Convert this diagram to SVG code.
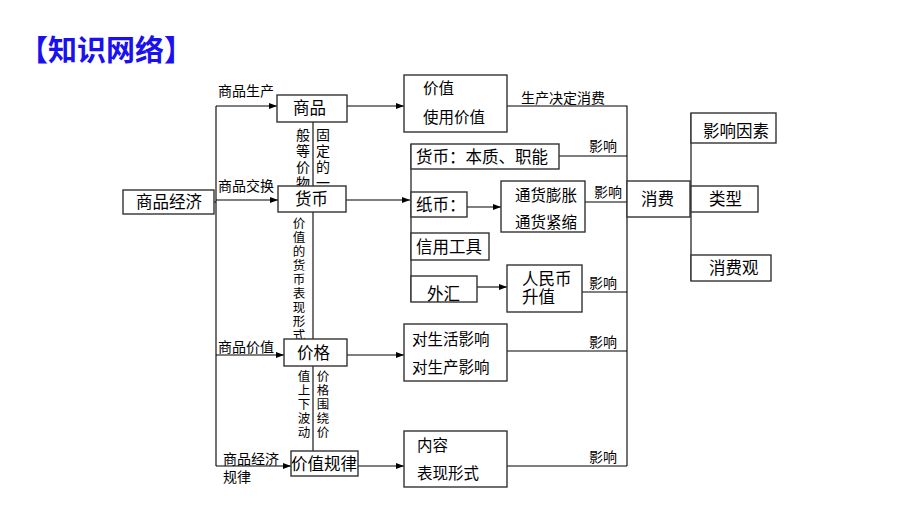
<svg xmlns="http://www.w3.org/2000/svg" width="920" height="518" viewBox="0 0 920 518">
<style>
text{font-family:"Liberation Sans","Noto Sans CJK SC",sans-serif;fill:#000;dominant-baseline:central}
.box{fill:#fff;stroke:#333;stroke-width:1.4}
.t16{font-size:16.5px}
.t15{font-size:15.5px}
.lbl{font-size:14px}
.vt{font-size:14px;text-anchor:middle}
.vs{font-size:12.5px;text-anchor:middle}
.ln{fill:none;stroke:#000;stroke-width:1.1}
.title{font-size:29px;font-weight:bold;fill:#1a10f0}
</style>
<defs>
<marker id="ah" markerUnits="userSpaceOnUse" markerWidth="8" markerHeight="6" refX="8" refY="3" orient="auto">
<path d="M0,0 L8,3 L0,6 Z" fill="#000"/>
</marker>
</defs>
<rect width="920" height="518" fill="#fff"/>
<text class="title" x="19" y="51">【知识网络】</text>

<g id="connectors">
<path class="ln" d="M214,202 H216 M216,106 V466"/>
<path class="ln" d="M216,106 H277" marker-end="url(#ah)"/>
<path class="ln" d="M216,200 H278" marker-end="url(#ah)"/>
<path class="ln" d="M216,355 H284" marker-end="url(#ah)"/>
<path class="ln" d="M216,466 H291" marker-end="url(#ah)"/>
<path class="ln" d="M313,122 V451"/>
<path class="ln" d="M347,106 H404" marker-end="url(#ah)"/>
<path class="ln" d="M346,200 H410" marker-end="url(#ah)"/>
<path class="ln" d="M347,355 H404" marker-end="url(#ah)"/>
<path class="ln" d="M358,466 H404" marker-end="url(#ah)"/>
<path class="ln" d="M411,144 V302"/>
<path class="ln" d="M467,207 H501" marker-end="url(#ah)"/>
<path class="ln" d="M477,287 H507" marker-end="url(#ah)"/>
<path class="ln" d="M507,106 H627 V466"/>
<path class="ln" d="M559,156 H627"/>
<path class="ln" d="M585,202 H627"/>
<path class="ln" d="M582,292 H627"/>
<path class="ln" d="M507,351 H627"/>
<path class="ln" d="M507,466 H627"/>
<path class="ln" d="M691,113 V281"/>
</g>

<g id="labels">
<text class="lbl" x="218" y="91">商品生产</text>
<text class="lbl" x="218" y="186">商品交换</text>
<text class="lbl" x="218" y="347">商品价值</text>
<text class="lbl" x="223" y="459">商品经济</text>
<text class="lbl" x="223" y="477">规律</text>
<text class="lbl" x="521" y="98">生产决定消费</text>
<text class="lbl" x="589" y="146">影响</text>
<text class="lbl" x="594" y="192">影响</text>
<text class="lbl" x="589" y="283">影响</text>
<text class="lbl" x="589" y="342">影响</text>
<text class="lbl" x="589" y="457">影响</text>
<text class="vt"><tspan x="323" y="135">固</tspan><tspan x="323" y="151">定</tspan><tspan x="323" y="167">的</tspan><tspan x="323" y="183">一</tspan><tspan x="303" y="135">般</tspan><tspan x="303" y="151">等</tspan><tspan x="303" y="167">价</tspan><tspan x="303" y="183">物</tspan></text>
<text class="vs"><tspan x="299" y="224">价</tspan><tspan x="299" y="238">值</tspan><tspan x="299" y="252">的</tspan><tspan x="299" y="266">货</tspan><tspan x="299" y="280">币</tspan><tspan x="299" y="294">表</tspan><tspan x="299" y="308">现</tspan><tspan x="299" y="322">形</tspan><tspan x="299" y="336">式</tspan></text>
<text class="vs"><tspan x="323" y="377">价</tspan><tspan x="323" y="391">格</tspan><tspan x="323" y="405">围</tspan><tspan x="323" y="419">绕</tspan><tspan x="323" y="433">价</tspan><tspan x="304" y="377">值</tspan><tspan x="304" y="391">上</tspan><tspan x="304" y="405">下</tspan><tspan x="304" y="419">波</tspan><tspan x="304" y="433">动</tspan></text>
</g>

<g id="n-economy"><rect class="box" x="123" y="190" width="91" height="24"/><text class="t16" x="136" y="202">商品经济</text></g>
<g id="n-goods"><rect class="box" x="277" y="95" width="70" height="27"/><text class="t16" x="293" y="108">商品</text></g>
<g id="n-money"><rect class="box" x="278" y="186" width="68" height="26"/><text class="t16" x="295" y="199">货币</text></g>
<g id="n-price"><rect class="box" x="284" y="339" width="63" height="27"/><text class="t16" x="297" y="353">价格</text></g>
<g id="n-law"><rect class="box" x="291" y="451" width="67" height="25"/><text class="t16" x="291" y="464">价值规律</text></g>

<g id="n-value"><rect class="box" x="404" y="75" width="103" height="57"/><text class="t15" x="423" y="88">价值</text><text class="t15" x="423" y="117">使用价值</text></g>
<g id="n-essence"><rect class="box" x="411" y="144" width="148" height="25"/><text class="t16" x="416" y="157">货币：本质、职能</text></g>
<g id="n-paper"><rect class="box" x="411" y="192" width="56" height="25"/><text class="t16" x="416" y="205">纸币：</text></g>
<g id="n-infl"><rect class="box" x="501" y="181" width="84" height="51"/><text class="t15" x="515" y="195">通货膨胀</text><text class="t15" x="515" y="222">通货紧缩</text></g>
<g id="n-credit"><rect class="box" x="411" y="233" width="78" height="27"/><text class="t16" x="416" y="247">信用工具</text></g>
<g id="n-forex"><rect class="box" x="411" y="276" width="66" height="26"/><text class="t16" x="427" y="294">外汇</text></g>
<g id="n-rmb"><rect class="box" x="507" y="265" width="75" height="47"/><text class="t16" x="522" y="279">人民币</text><text class="t16" x="522" y="297">升值</text></g>
<g id="n-effect"><rect class="box" x="404" y="324" width="103" height="57"/><text class="t15" x="412" y="339">对生活影响</text><text class="t15" x="412" y="367">对生产影响</text></g>
<g id="n-content"><rect class="box" x="404" y="431" width="103" height="56"/><text class="t15" x="417" y="445">内容</text><text class="t15" x="417" y="473">表现形式</text></g>

<g id="n-consume"><rect class="box" x="627" y="181" width="63" height="36"/><text class="t16" x="641" y="199">消费</text></g>
<g id="n-factor"><rect class="box" x="691" y="113" width="85" height="30"/><text class="t16" x="703" y="131">影响因素</text></g>
<g id="n-type"><rect class="box" x="691" y="186" width="67" height="26"/><text class="t16" x="709" y="199">类型</text></g>
<g id="n-view"><rect class="box" x="691" y="255" width="80" height="26"/><text class="t16" x="709" y="268">消费观</text></g>
</svg>
